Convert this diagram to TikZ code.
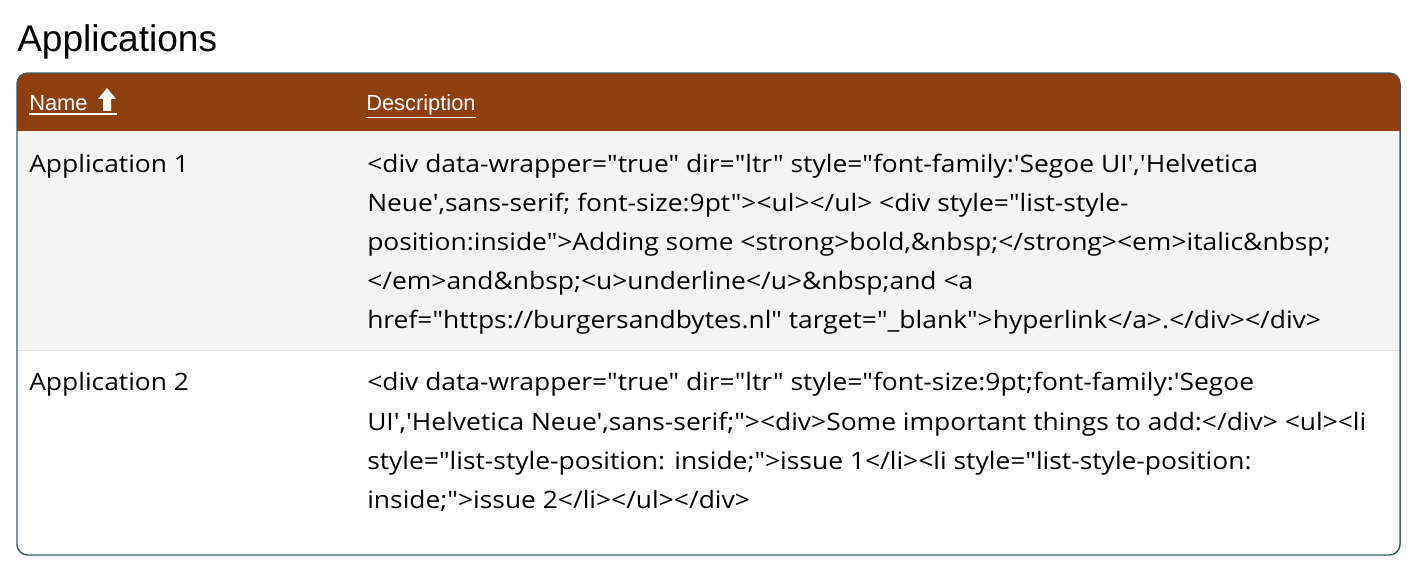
\documentclass[tikz,border=0pt]{standalone}
\usepackage{fontspec}
\setmainfont{Liberation Sans}
\newfontfamily\bodyf{Open Sans}
\definecolor{hdr}{HTML}{8F3F0E}
\definecolor{rowa}{HTML}{F4F4F4}
\definecolor{frame}{HTML}{3C5E64}
\definecolor{sep}{HTML}{E2E2E2}
\newcommand{\widetxt}[1]{\scalebox{1.1}[1]{#1}}
\tikzset{
  ln/.style={anchor=base west,inner sep=0pt,font=\bodyf\fontsize{18}{20}\selectfont,text=black},
  hd/.style={anchor=base west,inner sep=0pt,font=\fontsize{16.4}{18}\selectfont,text=white},
}
\begin{document}
\begin{tikzpicture}[x=0.75pt,y=-0.75pt]
\useasboundingbox (0,0) rectangle (1426,580);
\node[anchor=base west,inner sep=0pt,font=\fontsize{27.8}{30}\selectfont] (title) at (17,52) {Applications};
\begin{scope}
\clip[rounded corners=8] (17,73) rectangle (1400,555);
\fill[hdr] (17,73) rectangle (1400,131);
\fill[rowa] (17,131) rectangle (1400,350);
\fill[white] (17,350) rectangle (1400,555);
\draw[sep] (17,350) -- (1400,350);
\end{scope}
\draw[frame,line width=1.1pt,rounded corners=8] (17,73) rectangle (1400,555);
\node[hd] (h1) at (29,111) {Name};
\fill[white] (107,88) -- (116,99) -- (111,99) -- (111,111) -- (103,111) -- (103,99) -- (98,99) -- cycle;
\draw[white,line width=1pt] (29,114) -- (117,114);
\node[hd] (h2) at (366,111) {\underline{Description}};
\node[ln] (a1) at (29,173) {\widetxt{Application 1}};
\node[ln] (l1) at (367,173) {\widetxt{<div data-wrapper="true" dir="ltr" style="font-family:'Segoe UI','Helvetica}};
\node[ln] (l2) at (367,212) {\widetxt{Neue',sans-serif; font-size:9pt"><ul></ul> <div style="list-style-}};
\node[ln] (l3) at (367,251) {\widetxt{position:inside">Adding some <strong>bold,\&nbsp;</strong><em>italic\&nbsp;}};
\node[ln] (l4) at (367,290) {\widetxt{</em>and\&nbsp;<u>underline</u>\&nbsp;and <a}};
\node[ln] (l5) at (367,329) {\widetxt{href="https://burgersandbytes.nl" target="\_blank">hyperlink</a>.</div></div>}};
\node[ln] (a2) at (29,391) {\widetxt{Application 2}};
\node[ln] (m1) at (367,391) {\widetxt{<div data-wrapper="true" dir="ltr" style="font-size:9pt;font-family:'Segoe}};
\node[ln] (m2) at (367,430) {\widetxt{UI','Helvetica Neue',sans-serif;"><div>Some important things to add:</div> <ul><li}};
\node[ln] (m3) at (367,469) {\widetxt{style="list-style-position: inside;">issue 1</li><li style="list-style-position:}};
\node[ln] (m4) at (367,508) {\widetxt{inside;">issue 2</li></ul></div>}};
\end{tikzpicture}
\end{document}
